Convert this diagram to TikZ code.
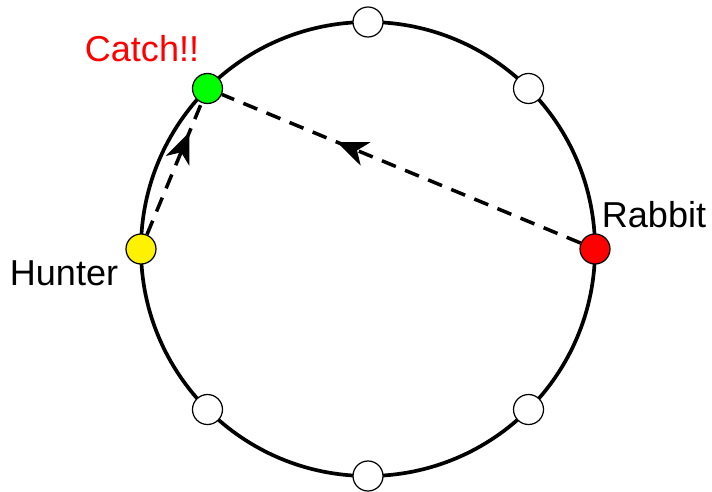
\documentclass[tikz,border=0pt]{standalone}
\usepackage{fontspec}
\setmainfont{Liberation Sans}
\usetikzlibrary{arrows.meta, positioning, calc, decorations.markings}

\begin{document}
\begin{tikzpicture}[thick,>=Stealth,
    spot/.style={draw, circle, line width=0.7pt, minimum size=0.6cm, inner sep=0pt, fill=white},
    chase/.style={dashed, line width=2pt, dash pattern=on 0.3cm off 0.2cm},
    tag/.style={anchor=base, font=\fontsize{20.5}{24}\selectfont}]
    \useasboundingbox (0,0) rectangle (14.24,-9.82);

    % Track
    \coordinate (ctr) at (7.36,-4.98);
    \draw[line width=2.1pt] (ctr) circle (4.54cm);

    % Spots on the track
    \foreach \a in {90,45,-45,-90,-135}
      \node[spot] (s\a) at ($(ctr)+(\a:4.54cm)$) {};
    \node[spot, fill=red] (rabbit) at ($(ctr)+(0:4.54cm)$) {};
    \node[spot, fill=yellow] (hunter) at ($(ctr)+(180:4.54cm)$) {};
    \node[spot, fill=green] (catch) at ($(ctr)+(135:4.54cm)$) {};

    % Labels
    \node[tag, red] (catchlbl) at (2.84,-1.24) {Catch!!};
    \node[tag] (hunterlbl) at (1.28,-5.70) {Hunter};
    \node[tag] (rabbitlbl) at (13.08,-4.54) {Rabbit};

    % Paths
    \draw[chase, postaction={decorate}, decoration={markings,
        mark=at position 0.68 with {\arrow{Stealth[length=0.62cm, width=0.5cm, inset=0.18cm]}}}]
        (rabbit) -- (catch);
    \draw[chase, postaction={decorate}, decoration={markings,
        mark=at position 0.78 with {\arrow{Stealth[length=0.62cm, width=0.5cm, inset=0.18cm]}}}]
        (hunter) -- (catch);
\end{tikzpicture}
\end{document}
